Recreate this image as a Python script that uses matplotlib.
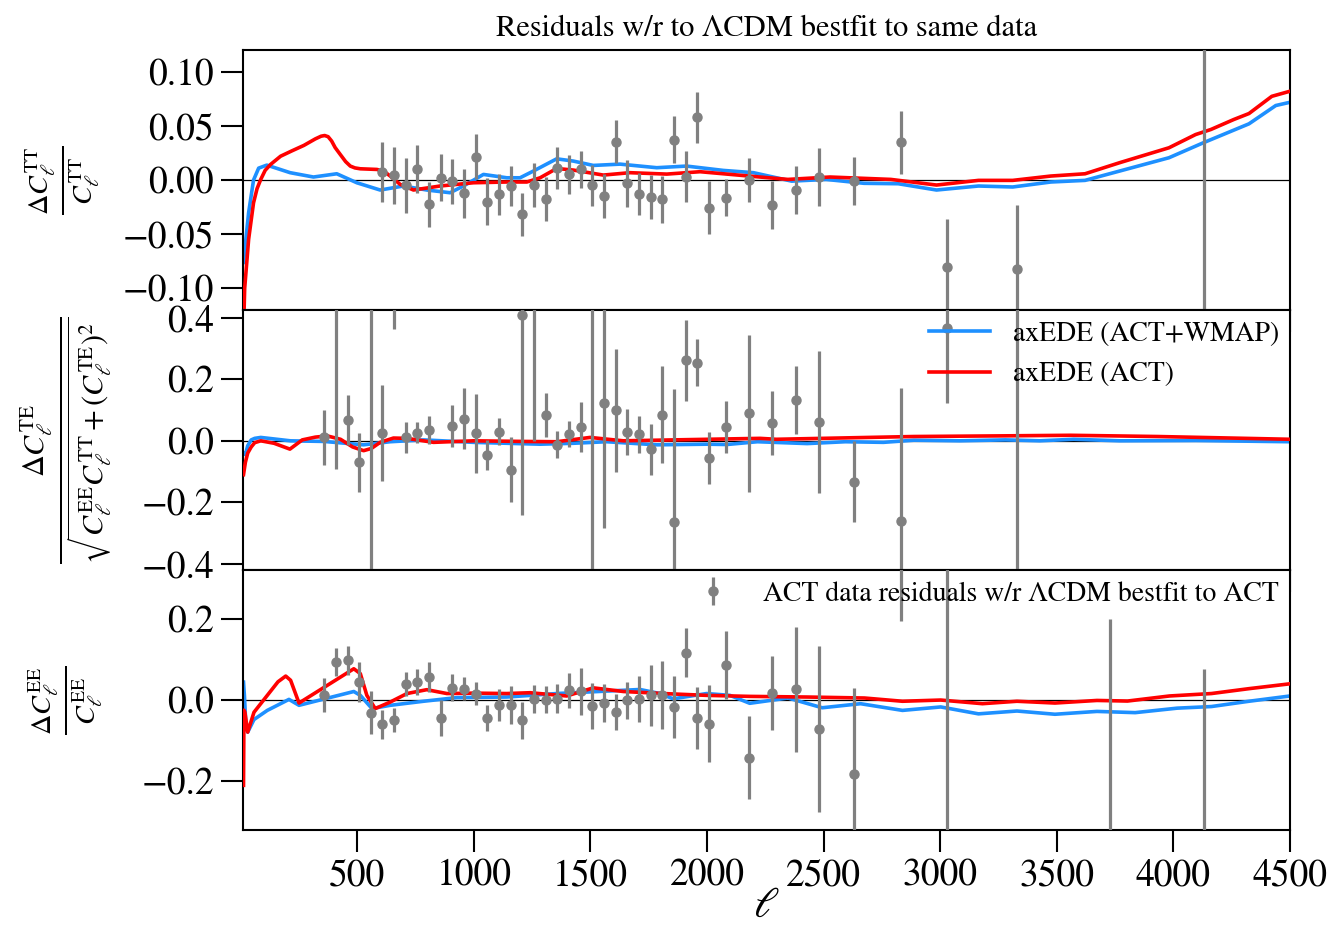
import matplotlib
matplotlib.use("Agg")
import matplotlib.pyplot as plt
from matplotlib.ticker import FuncFormatter
import numpy as np

plt.rcParams['font.family'] = ['STIXGeneral', 'DejaVu Serif']
plt.rcParams['mathtext.fontset'] = 'stix'

# ---------------- data: ACT residuals ----------------
ell_tt = [608, 658, 708, 758, 808, 858, 908, 958, 1008, 1058, 1108, 1158, 1208, 1258, 1308,
          1358, 1408, 1458, 1508, 1558, 1608, 1658, 1708, 1758, 1808, 1858, 1908, 1958, 2008,
          2080, 2180, 2280, 2380, 2480, 2630, 2830, 3030, 3330, 4130]
res_tt = [0.0074, 0.0043, -0.0049, 0.0098, -0.0224, 0.0021, -0.0010, -0.0123, 0.0215, -0.0200,
          -0.0132, -0.0055, -0.0316, -0.0043, -0.0172, 0.0114, 0.0052, 0.0098, -0.0049, -0.0147,
          0.0353, -0.0030, -0.0126, -0.0157, -0.0178, 0.0374, 0.0031, 0.0580, -0.0255,
          -0.0163, 0.0000, -0.0230, -0.0092, 0.0028, -0.0006, 0.0347, -0.0800, -0.0823, 0.2]
err_tt = [0.0276, 0.0264, 0.0252, 0.0221, 0.0209, 0.0215, 0.0207, 0.0224, 0.0209, 0.0215,
          0.0190, 0.0184, 0.0196, 0.0203, 0.0204, 0.0192, 0.0181, 0.0174, 0.0187, 0.0207,
          0.0200, 0.0215, 0.0195, 0.0206, 0.0215, 0.0218, 0.0233, 0.0235, 0.0245,
          0.0169, 0.0200, 0.0221, 0.0225, 0.0267, 0.0221, 0.0295, 0.0445, 0.0589, 0.5]

ell_te = [358, 408, 458, 508, 558, 608, 658, 708, 758, 808, 908, 958, 1008, 1058, 1108, 1158,
          1208, 1258, 1308, 1358, 1408, 1458, 1508, 1558, 1608, 1658, 1708, 1758, 1808, 1858,
          1908, 1958, 2008, 2080, 2180, 2280, 2380, 2480, 2630, 2830, 3030, 3330]
res_te = [0.011, 0.50, 0.068, -0.070, -0.60, 0.025, 0.60, 0.011, 0.027, 0.036, 0.048, 0.072,
          0.025, -0.046, 0.030, -0.094, 0.410, 0.55, 0.085, -0.013, 0.022, 0.044, 0.60, 0.124,
          0.099, 0.030, 0.021, -0.028, 0.085, -0.263, 0.262, 0.254, -0.055, 0.045, 0.089,
          0.058, 0.132, 0.062, -0.133, -0.261, 0.367, -0.50]
err_te = [0.089, 0.59, 0.080, 0.096, 1.10, 0.157, 0.236, 0.051, 0.034, 0.045, 0.068, 0.099,
          0.128, 0.050, 0.043, 0.106, 0.650, 0.55, 0.071, 0.044, 0.043, 0.081, 1.10, 0.408,
          0.200, 0.075, 0.059, 0.083, 0.157, 0.430, 0.132, 0.076, 0.085, 0.086, 0.255,
          0.105, 0.110, 0.230, 0.131, 0.434, 0.243, 1.0]

ell_ee = [358, 408, 458, 508, 558, 608, 658, 708, 758, 808, 858, 908, 958, 1008, 1058, 1108,
          1158, 1208, 1258, 1308, 1358, 1408, 1458, 1508, 1558, 1608, 1658, 1708, 1758, 1808,
          1858, 1908, 1958, 2008, 2080, 2180, 2280, 2380, 2480, 2630, 2830, 3030, 3730, 4130]
res_ee = [0.013, 0.094, 0.098, 0.044, -0.031, -0.060, -0.049, 0.040, 0.044, 0.057, -0.044,
          0.030, 0.028, 0.016, -0.044, -0.013, -0.013, -0.050, 0.002, 0.001, 0.003, 0.024,
          0.022, -0.015, -0.007, -0.030, -0.001, 0.002, 0.012, 0.012, -0.017, 0.117, -0.044,
          -0.058, 0.087, -0.142, 0.017, 0.026, -0.071, -0.183, 0.45, -0.5, -0.5, -0.5]
err_ee = [0.042, 0.035, 0.036, 0.050, 0.053, 0.036, 0.030, 0.029, 0.032, 0.037, 0.045, 0.033,
          0.028, 0.028, 0.033, 0.039, 0.047, 0.045, 0.035, 0.033, 0.036, 0.043, 0.058, 0.056,
          0.046, 0.044, 0.045, 0.057, 0.075, 0.084, 0.077, 0.060, 0.077, 0.095, 0.084, 0.102,
          0.091, 0.155, 0.204, 0.212, 0.256, 1.0, 0.70, 0.576]

# ---------------- model curves ----------------
tt_b_ell = [12, 34, 55, 77, 112, 212, 312, 412, 498, 598, 698, 798, 898, 955, 1041, 1141, 1198,
            1255, 1355, 1427, 1512, 1627, 1784, 1912, 2070, 2199, 2363, 2510, 2673, 2820, 2984,
            3164, 3311, 3474, 3621, 3769, 3981, 4128, 4324, 4439, 4500]
tt_b_val = [-0.076, -0.030, 0.000, 0.011, 0.0138, 0.0068, 0.0028, 0.0058, -0.0025, -0.0092,
            -0.0055, -0.0092, -0.0117, -0.0055, 0.0052, 0.0021, 0.0021, 0.0083, 0.0196, 0.0175,
            0.0135, 0.0147, 0.0114, 0.0129, 0.0089, 0.0068, -0.0010, 0.0006, -0.0030, -0.0034,
            -0.0092, -0.0055, -0.0064, -0.0018, -0.0003, 0.0083, 0.0206, 0.0344, 0.0519,
            0.0688, 0.0718]
tt_r_ell = [12, 17, 34, 55, 70, 86, 105, 128, 171, 220, 271, 320, 345, 360, 375, 390, 405, 427,
            450, 470, 490, 513, 584, 615, 641, 684, 741, 855, 998, 1141, 1227, 1284, 1355, 1427,
            1555, 1669, 1827, 1970, 2227, 2347, 2527, 2788, 2984, 3164, 3311, 3474, 3621, 3769,
            3981, 4095, 4161, 4259, 4324, 4422, 4500]
tt_r_val = [-0.14, -0.10, -0.0546, -0.021, -0.008, 0.0006, 0.009, 0.0144, 0.022, 0.027, 0.032,
            0.038, 0.0405, 0.0411, 0.040, 0.036, 0.030, 0.0236, 0.017, 0.0129, 0.0112, 0.0104,
            0.0098, 0.008, 0.0037, -0.004, -0.0092, -0.0055, -0.0025, -0.0018, -0.0018, 0.0021,
            0.0107, 0.0092, 0.0046, 0.0068, 0.0055, 0.0077, 0.0028, 0.0006, 0.0028, 0.0006,
            -0.0046, -0.0003, -0.0003, 0.0037, 0.0058, 0.016, 0.0298, 0.042, 0.0467, 0.0559,
            0.0614, 0.0773, 0.082]

te_b_ell = [12, 20, 30, 45, 60, 86, 213, 356, 450, 527, 641, 784, 998, 1284, 1427, 1569, 1784,
            1998, 2085, 2216, 2429, 2593, 2756, 2887, 3084, 3280, 3427, 3572, 3769, 4096, 4500]
te_b_val = [-0.04, -0.045, -0.016, 0.003, 0.008, 0.011, 0.0, -0.002, -0.008, -0.013, -0.003,
            0.003, -0.005, -0.011, -0.008, -0.003, -0.013, -0.011, -0.012, -0.003, -0.009,
            -0.003, -0.005, 0.002, 0.0, 0.003, 0.0, 0.005, 0.0, 0.001, -0.003]
te_r_ell = [12, 20, 30, 45, 60, 86, 143, 211, 264, 320, 371, 428, 480, 527, 560, 598, 655, 713,
            827, 998, 1212, 1355, 1498, 1641, 1855, 2227, 2297, 2887, 3247, 3558, 3932, 4500]
te_r_val = [-0.11, -0.07, -0.04, -0.02, -0.006, 0.0, -0.008, -0.027, 0.003, 0.012, 0.016, 0.005,
            -0.02, -0.032, -0.025, -0.005, 0.009, 0.008, -0.005, 0.0, -0.002, -0.003, 0.011, 0.0,
            0.003, 0.008, 0.005, 0.014, 0.016, 0.018, 0.014, 0.005]

ee_b_ell = [12, 16, 22, 30, 57, 114, 207, 250, 485, 513, 563, 641, 784, 927, 1141, 1355, 1498,
            1712, 1798, 1855, 1998, 2098, 2183, 2347, 2494, 2658, 2838, 3002, 3164, 3329, 3492,
            3672, 3836, 4016, 4163, 4324, 4500]
ee_b_val = [0.044, 0.01, -0.06, -0.079, -0.048, -0.0255, 0.0016, -0.013, 0.021, 0.0115, -0.021,
            -0.013, -0.003, 0.006, 0.0074, 0.016, 0.020, 0.026, 0.016, 0.003, 0.016, 0.0115,
            -0.008, 0.005, -0.019, -0.009, -0.0255, -0.017, -0.034, -0.027, -0.035, -0.028,
            -0.031, -0.020, -0.016, -0.003, 0.010]
ee_r_ell = [12, 14, 18, 30, 57, 114, 160, 193, 214, 250, 485, 513, 541, 577, 641, 713, 798, 884,
            998, 1141, 1241, 1398, 1512, 1641, 1812, 1998, 2183, 2429, 2675, 2838, 3002, 3181,
            3329, 3492, 3672, 3803, 3983, 4163, 4324, 4500]
ee_r_val = [-0.21, -0.025, -0.03, -0.079, -0.03, 0.0115, 0.045, 0.059, 0.0486, -0.0074, 0.077,
            0.065, 0.0115, -0.021, -0.005, 0.016, 0.0255, 0.016, 0.017, 0.016, 0.018, 0.010,
            0.030, 0.021, 0.016, 0.0115, 0.009, 0.0074, 0.005, -0.003, 0.0, -0.009, -0.003,
            -0.0074, -0.001, -0.0025, 0.010, 0.016, 0.028, 0.040]

xticks = [500, 1000, 1500, 2000, 2500, 3000, 3500, 4000, 4500]
yticks_tt = [-0.10, -0.05, 0.00, 0.05, 0.10]
yticks_te = [-0.4, -0.2, 0.0, 0.2, 0.4]
yticks_ee = [-0.2, 0.0, 0.2]

# ---------------- figure ----------------
fig = plt.figure(figsize=(13.31, 9.27), dpi=100)
gs = fig.add_gridspec(3, 1, left=0.1826, right=0.9692, top=0.946, bottom=0.1046, hspace=0)
axs = [fig.add_subplot(gs[i]) for i in range(3)]
for a in axs[1:]:
    a.sharex(axs[0])

blue = '#1E90FF'
red = '#FF0000'
lw = 2.6
eb_kw = dict(fmt='o', color='gray', ms=6.5, elinewidth=2.3, capsize=0, zorder=4)


def fmt_factory(nd):
    def f(v, pos):
        s = ('%.' + str(nd) + 'f') % v
        return s.replace('-', '\u2212')
    return FuncFormatter(f)


panels = [
    (axs[0], tt_b_ell, tt_b_val, tt_r_ell, tt_r_val, ell_tt, res_tt, err_tt, (-0.12, 0.12), yticks_tt, 2),
    (axs[1], te_b_ell, te_b_val, te_r_ell, te_r_val, ell_te, res_te, err_te, (-0.42, 0.425), yticks_te, 1),
    (axs[2], ee_b_ell, ee_b_val, ee_r_ell, ee_r_val, ell_ee, res_ee, err_ee, (-0.32, 0.32), yticks_ee, 1),
]
handles = {}
for ax, bl, bv, rl, rv, de, dv, dd, ylim, yt, nd in panels:
    ax.axhline(0, color='black', lw=0.9, zorder=1)
    hb, = ax.plot(bl, bv, color=blue, lw=lw, zorder=2, label='axEDE (ACT+WMAP)')
    hr, = ax.plot(rl, rv, color=red, lw=lw, zorder=3, label='axEDE (ACT)')
    he = ax.errorbar(de, dv, yerr=dd, **eb_kw,
                     label='ACT data residuals w/r \u039bCDM bestfit to ACT')
    handles['b'], handles['r'], handles['e'] = hb, hr, he
    ax.set_ylim(*ylim)
    ax.set_yticks(yt)
    ax.yaxis.set_major_formatter(fmt_factory(nd))
    ax.tick_params(direction='out', length=16, width=1.5, labelsize=27, pad=5,
                   top=False, right=False)
    for s in ax.spines.values():
        s.set_linewidth(1.5)

axs[0].set_xlim(10, 4500)
axs[0].set_xticks(xticks)
for a in axs[:2]:
    a.tick_params(labelbottom=False)

axs[0].set_title('Residuals w/r to \u039bCDM bestfit to same data', fontsize=22, pad=10)
axs[2].set_xlabel(r'$\ell$', fontsize=31, labelpad=-5)

axs[0].set_ylabel(r'$\frac{\Delta C_\ell^{\rm TT}}{C_\ell^{\rm TT}}$', fontsize=29)
axs[1].set_ylabel(r'$\frac{\Delta C_\ell^{\rm TE}}{\sqrt{C_\ell^{\rm EE}C_\ell^{\rm TT}+(C_\ell^{\rm TE})^2}}$',
                  fontsize=31)
axs[2].set_ylabel(r'$\frac{\Delta C_\ell^{\rm EE}}{C_\ell^{\rm EE}}$', fontsize=29)
axs[0].yaxis.set_label_coords(-0.135, 0.5)
axs[1].yaxis.set_label_coords(-0.123, 0.5)
axs[2].yaxis.set_label_coords(-0.132, 0.5)

axs[1].legend(handles=[handles['b'], handles['r']], loc='upper right', fontsize=20,
              frameon=False, handlelength=2.2, handletextpad=0.8, labelspacing=0.55,
              borderaxespad=0.1, borderpad=0.3)
axs[2].legend(handles=[handles['e']], loc='upper right', fontsize=20, frameon=False,
              handlelength=2.0, handletextpad=0.8, borderaxespad=0.1, borderpad=0.3)

fig.savefig('out.png', dpi=100)
